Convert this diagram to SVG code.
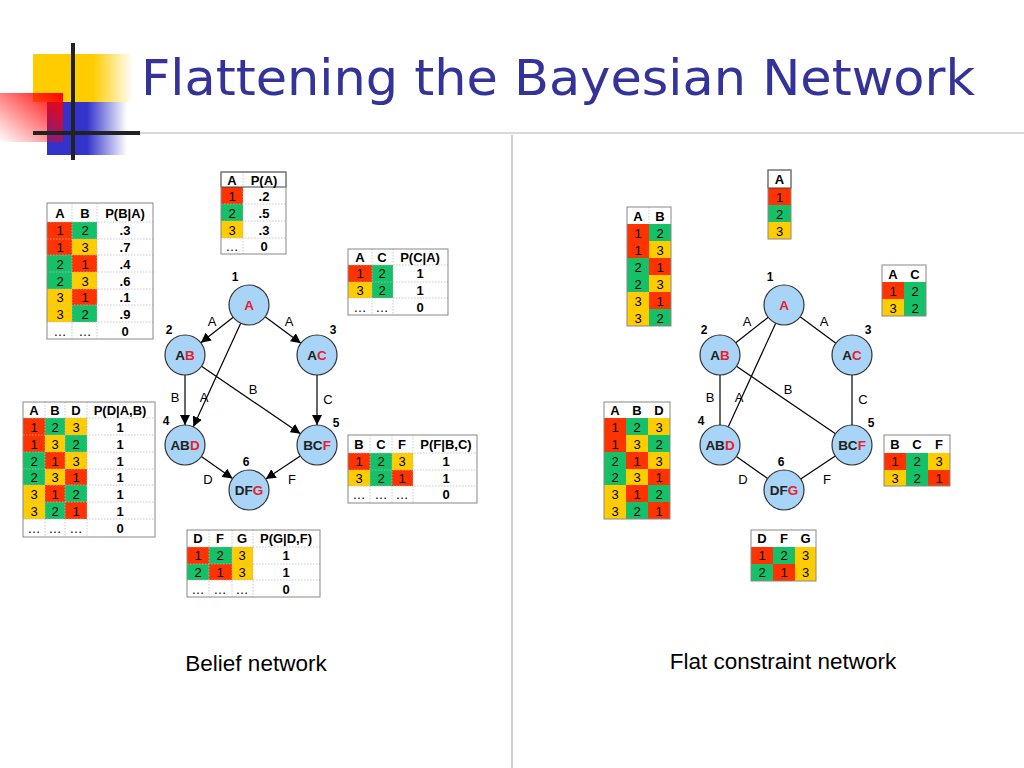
<svg xmlns="http://www.w3.org/2000/svg" width="1024" height="768" viewBox="0 0 1024 768">
<defs>
<linearGradient id="gy" x1="0" y1="0" x2="1" y2="0"><stop offset="0" stop-color="#ffcc00"/><stop offset="0.6" stop-color="#ffcc00"/><stop offset="1" stop-color="#ffcc00" stop-opacity="0"/></linearGradient>
<linearGradient id="gb" x1="0" y1="0" x2="1" y2="0"><stop offset="0" stop-color="#3333cc"/><stop offset="0.5" stop-color="#3333cc"/><stop offset="1" stop-color="#3333cc" stop-opacity="0"/></linearGradient>
<linearGradient id="gr" x1="0" y1="1" x2="1" y2="0"><stop offset="0" stop-color="#ff0000" stop-opacity="0"/><stop offset="1" stop-color="#ff0000"/></linearGradient>
<marker id="ah" viewBox="0 0 10 10" refX="10" refY="5" markerWidth="10" markerHeight="10" markerUnits="userSpaceOnUse" orient="auto"><path d="M0,0 L10,5 L0,10 z" fill="#000"/></marker>
</defs>
<style>
text{font-family:"Liberation Sans",Arial,sans-serif;text-anchor:middle;dominant-baseline:central}
.h{font-size:13px;font-weight:bold}
.c{font-size:13px}
.r{fill:#ff3300}.g{fill:#16c068}.y{fill:#ffcc00}
.ob{fill:none;stroke:#888;stroke-width:1}
.il{stroke:#bbb;stroke-width:0.8;stroke-dasharray:1.5 1.5}
.node{fill:#a8d4f7;stroke:#333;stroke-width:1.2}
.nt{font-size:13.5px;font-weight:bold;fill:#222}
.red{fill:#e8202a}
.num{font-size:12px;font-weight:bold}
.el{font-size:13px}
.e{stroke:#000;stroke-width:1.2;fill:none}
.ea{stroke:#000;stroke-width:1.2;fill:none;marker-end:url(#ah)}
.cap{font-size:22.5px}
</style>
<rect width="1024" height="768" fill="#fff"/>
<!-- logo -->
<rect x="33" y="54" width="100" height="48" fill="url(#gy)"/>
<rect x="47" y="102" width="80" height="53" fill="url(#gb)"/>
<rect x="0" y="93" width="63" height="49" fill="url(#gr)"/>
<line x1="73" y1="43" x2="73" y2="160" stroke="#222" stroke-width="4"/>
<line x1="33" y1="133" x2="140" y2="133" stroke="#222" stroke-width="4"/>
<line x1="140" y1="133" x2="1024" y2="133" stroke="#ccc" stroke-width="1.5"/>
<line x1="512" y1="135" x2="512" y2="768" stroke="#bbb" stroke-width="1.5"/>
<text x="141" y="78" style="text-anchor:start;font-family:'DejaVu Sans',Verdana,sans-serif;font-size:50px;fill:#333399" textLength="834" lengthAdjust="spacingAndGlyphs">Flattening the Bayesian Network</text>

<!-- LEFT TABLES -->
<g id="tPA">
<rect x="221" y="187" width="22" height="17" class="r"/><rect x="221" y="204" width="22" height="17" class="g"/><rect x="221" y="221" width="22" height="17" class="y"/>
<line x1="221" y1="204" x2="286" y2="204" class="il"/><line x1="221" y1="221" x2="286" y2="221" class="il"/><line x1="221" y1="238" x2="286" y2="238" class="il"/>
<line x1="243" y1="172" x2="243" y2="254" class="il"/>
<rect x="221" y="172" width="65" height="15" fill="none" stroke="#444"/>
<rect x="221" y="172" width="65" height="82" class="ob"/>
<text x="232" y="180" class="h">A</text><text x="264" y="180" class="h">P(A)</text>
<text x="232" y="196" class="c">1</text><text x="264" y="196" class="h">.2</text>
<text x="232" y="213" class="c">2</text><text x="264" y="213" class="h">.5</text>
<text x="232" y="230" class="c">3</text><text x="264" y="230" class="h">.3</text>
<text x="232" y="246" class="c">…</text><text x="264" y="246" class="h">0</text>
</g>

<g id="tPBA">
<rect x="47" y="222" width="25" height="33" class="r"/><rect x="47" y="255" width="25" height="34" class="g"/><rect x="47" y="289" width="25" height="33" class="y"/>
<rect x="72" y="222" width="25" height="17" class="g"/><rect x="72" y="239" width="25" height="16" class="y"/><rect x="72" y="255" width="25" height="17" class="r"/><rect x="72" y="272" width="25" height="17" class="y"/><rect x="72" y="289" width="25" height="16" class="r"/><rect x="72" y="305" width="25" height="17" class="g"/>
<line x1="47" y1="222" x2="153" y2="222" class="il"/><line x1="47" y1="239" x2="153" y2="239" class="il"/><line x1="47" y1="255" x2="153" y2="255" class="il"/><line x1="47" y1="272" x2="153" y2="272" class="il"/><line x1="47" y1="289" x2="153" y2="289" class="il"/><line x1="47" y1="305" x2="153" y2="305" class="il"/><line x1="47" y1="322" x2="153" y2="322" class="il"/>
<line x1="72" y1="203" x2="72" y2="339" class="il"/><line x1="97" y1="203" x2="97" y2="339" class="il"/>
<rect x="47" y="203" width="106" height="136" class="ob"/>
<text x="60" y="213" class="h">A</text><text x="85" y="213" class="h">B</text><text x="125" y="213" class="h">P(B|A)</text>
<text x="60" y="230" class="c">1</text><text x="85" y="230" class="c">2</text><text x="125" y="230" class="h">.3</text>
<text x="60" y="247" class="c">1</text><text x="85" y="247" class="c">3</text><text x="125" y="247" class="h">.7</text>
<text x="60" y="264" class="c">2</text><text x="85" y="264" class="c">1</text><text x="125" y="264" class="h">.4</text>
<text x="60" y="281" class="c">2</text><text x="85" y="281" class="c">3</text><text x="125" y="281" class="h">.6</text>
<text x="60" y="297" class="c">3</text><text x="85" y="297" class="c">1</text><text x="125" y="297" class="h">.1</text>
<text x="60" y="314" class="c">3</text><text x="85" y="314" class="c">2</text><text x="125" y="314" class="h">.9</text>
<text x="60" y="331" class="c">…</text><text x="85" y="331" class="c">…</text><text x="125" y="331" class="h">0</text>
</g>

<g id="tPCA">
<rect x="348" y="265" width="24" height="17" class="r"/><rect x="348" y="282" width="24" height="16" class="y"/><rect x="372" y="265" width="21" height="33" class="g"/>
<line x1="348" y1="265" x2="448" y2="265" class="il"/><line x1="348" y1="282" x2="448" y2="282" class="il"/><line x1="348" y1="298" x2="448" y2="298" class="il"/>
<line x1="372" y1="249" x2="372" y2="315" class="il"/><line x1="393" y1="249" x2="393" y2="315" class="il"/>
<rect x="348" y="249" width="100" height="66" class="ob"/>
<text x="360" y="257" class="h">A</text><text x="382" y="257" class="h">C</text><text x="420" y="257" class="h">P(C|A)</text>
<text x="360" y="273" class="c">1</text><text x="382" y="273" class="c">2</text><text x="420" y="273" class="h">1</text>
<text x="360" y="290" class="c">3</text><text x="382" y="290" class="c">2</text><text x="420" y="290" class="h">1</text>
<text x="360" y="307" class="c">…</text><text x="382" y="307" class="c">…</text><text x="420" y="307" class="h">0</text>
</g>

<g id="tPDAB">
<rect x="23" y="418" width="22" height="34" class="r"/><rect x="23" y="452" width="22" height="33" class="g"/><rect x="23" y="485" width="22" height="34" class="y"/>
<rect x="45" y="418" width="20" height="17" class="g"/><rect x="45" y="435" width="20" height="17" class="y"/><rect x="45" y="452" width="20" height="17" class="r"/><rect x="45" y="469" width="20" height="16" class="y"/><rect x="45" y="485" width="20" height="17" class="r"/><rect x="45" y="502" width="20" height="17" class="g"/>
<rect x="65" y="418" width="22" height="17" class="y"/><rect x="65" y="435" width="22" height="17" class="g"/><rect x="65" y="452" width="22" height="17" class="y"/><rect x="65" y="469" width="22" height="16" class="r"/><rect x="65" y="485" width="22" height="17" class="g"/><rect x="65" y="502" width="22" height="17" class="r"/>
<line x1="23" y1="418" x2="155" y2="418" class="il"/><line x1="23" y1="435" x2="155" y2="435" class="il"/><line x1="23" y1="452" x2="155" y2="452" class="il"/><line x1="23" y1="469" x2="155" y2="469" class="il"/><line x1="23" y1="485" x2="155" y2="485" class="il"/><line x1="23" y1="502" x2="155" y2="502" class="il"/><line x1="23" y1="519" x2="155" y2="519" class="il"/>
<line x1="45" y1="402" x2="45" y2="537" class="il"/><line x1="65" y1="402" x2="65" y2="537" class="il"/><line x1="87" y1="402" x2="87" y2="537" class="il"/>
<rect x="23" y="402" width="132" height="135" class="ob"/>
<text x="34" y="410" class="h">A</text><text x="55" y="410" class="h">B</text><text x="76" y="410" class="h">D</text><text x="120" y="410" class="h">P(D|A,B)</text>
<text x="34" y="427" class="c">1</text><text x="55" y="427" class="c">2</text><text x="76" y="427" class="c">3</text><text x="120" y="427" class="h">1</text>
<text x="34" y="444" class="c">1</text><text x="55" y="444" class="c">3</text><text x="76" y="444" class="c">2</text><text x="120" y="444" class="h">1</text>
<text x="34" y="461" class="c">2</text><text x="55" y="461" class="c">1</text><text x="76" y="461" class="c">3</text><text x="120" y="461" class="h">1</text>
<text x="34" y="477" class="c">2</text><text x="55" y="477" class="c">3</text><text x="76" y="477" class="c">1</text><text x="120" y="477" class="h">1</text>
<text x="34" y="494" class="c">3</text><text x="55" y="494" class="c">1</text><text x="76" y="494" class="c">2</text><text x="120" y="494" class="h">1</text>
<text x="34" y="511" class="c">3</text><text x="55" y="511" class="c">2</text><text x="76" y="511" class="c">1</text><text x="120" y="511" class="h">1</text>
<text x="34" y="528" class="c">…</text><text x="55" y="528" class="c">…</text><text x="76" y="528" class="c">…</text><text x="120" y="528" class="h">0</text>
</g>

<g id="tPFBC">
<rect x="348" y="453" width="22" height="17" class="r"/><rect x="348" y="470" width="22" height="16" class="y"/><rect x="370" y="453" width="22" height="33" class="g"/><rect x="392" y="453" width="21" height="17" class="y"/><rect x="392" y="470" width="21" height="16" class="r"/>
<line x1="348" y1="453" x2="477" y2="453" class="il"/><line x1="348" y1="470" x2="477" y2="470" class="il"/><line x1="348" y1="486" x2="477" y2="486" class="il"/>
<line x1="370" y1="435" x2="370" y2="503" class="il"/><line x1="392" y1="435" x2="392" y2="503" class="il"/><line x1="413" y1="435" x2="413" y2="503" class="il"/>
<rect x="348" y="435" width="129" height="68" class="ob"/>
<text x="359" y="444" class="h">B</text><text x="381" y="444" class="h">C</text><text x="402" y="444" class="h">F</text><text x="446" y="444" class="h">P(F|B,C)</text>
<text x="359" y="461" class="c">1</text><text x="381" y="461" class="c">2</text><text x="402" y="461" class="c">3</text><text x="446" y="461" class="h">1</text>
<text x="359" y="478" class="c">3</text><text x="381" y="478" class="c">2</text><text x="402" y="478" class="c">1</text><text x="446" y="478" class="h">1</text>
<text x="359" y="494" class="c">…</text><text x="381" y="494" class="c">…</text><text x="402" y="494" class="c">…</text><text x="446" y="494" class="h">0</text>
</g>

<g id="tPGDF">
<rect x="187" y="547" width="22" height="17" class="r"/><rect x="187" y="564" width="22" height="16" class="g"/><rect x="209" y="547" width="23" height="17" class="g"/><rect x="209" y="564" width="23" height="16" class="r"/><rect x="232" y="547" width="21" height="33" class="y"/>
<line x1="187" y1="547" x2="320" y2="547" class="il"/><line x1="187" y1="564" x2="320" y2="564" class="il"/><line x1="187" y1="580" x2="320" y2="580" class="il"/>
<line x1="209" y1="530" x2="209" y2="597" class="il"/><line x1="232" y1="530" x2="232" y2="597" class="il"/><line x1="253" y1="530" x2="253" y2="597" class="il"/>
<rect x="187" y="530" width="133" height="67" class="ob"/>
<text x="198" y="538" class="h">D</text><text x="220" y="538" class="h">F</text><text x="242" y="538" class="h">G</text><text x="286" y="538" class="h">P(G|D,F)</text>
<text x="198" y="555" class="c">1</text><text x="220" y="555" class="c">2</text><text x="242" y="555" class="c">3</text><text x="286" y="555" class="h">1</text>
<text x="198" y="572" class="c">2</text><text x="220" y="572" class="c">1</text><text x="242" y="572" class="c">3</text><text x="286" y="572" class="h">1</text>
<text x="198" y="589" class="c">…</text><text x="220" y="589" class="c">…</text><text x="242" y="589" class="c">…</text><text x="286" y="589" class="h">0</text>
</g>

<!-- LEFT GRAPH CONNECTORS -->
<g id="connectors-left">
<line x1="233.2" y1="317.3" x2="200.8" y2="342.7" class="ea"/>
<line x1="265.1" y1="316.8" x2="300.9" y2="343.2" class="ea"/>
<line x1="240.7" y1="323.2" x2="193.3" y2="426.8" class="ea"/>
<line x1="185" y1="375" x2="185" y2="425" class="ea"/>
<line x1="201.5" y1="366.3" x2="300.5" y2="433.7" class="ea"/>
<line x1="317" y1="375" x2="317" y2="425" class="ea"/>
<line x1="201.4" y1="456.5" x2="232.6" y2="478.5" class="ea"/>
<line x1="300.3" y1="456" x2="265.7" y2="479" class="ea"/>
<text x="212" y="321" class="el">A</text><text x="289" y="321" class="el">A</text>
<text x="175" y="397" class="el">B</text><text x="204" y="397" class="el">A</text>
<text x="253" y="389" class="el">B</text><text x="328" y="399" class="el">C</text>
<text x="208" y="479" class="el">D</text><text x="292" y="479" class="el">F</text>
</g>
<g id="L1"><circle cx="249" cy="305" r="20" class="node"/><text x="249" y="305" class="nt"><tspan class="red">A</tspan></text><text x="235" y="277" class="num">1</text></g>
<g id="L2"><circle cx="185" cy="355" r="20" class="node"/><text x="185" y="355" class="nt">A<tspan class="red">B</tspan></text><text x="169" y="330" class="num">2</text></g>
<g id="L3"><circle cx="317" cy="355" r="20" class="node"/><text x="317" y="355" class="nt">A<tspan class="red">C</tspan></text><text x="333" y="330" class="num">3</text></g>
<g id="L4"><circle cx="185" cy="445" r="20" class="node"/><text x="185" y="445" class="nt">AB<tspan class="red">D</tspan></text><text x="166" y="421" class="num">4</text></g>
<g id="L5"><circle cx="317" cy="445" r="20" class="node"/><text x="317" y="445" class="nt">BC<tspan class="red">F</tspan></text><text x="336" y="423" class="num">5</text></g>
<g id="L6"><circle cx="249" cy="490" r="20" class="node"/><text x="249" y="490" class="nt">DF<tspan class="red">G</tspan></text><text x="246" y="462" class="num">6</text></g>

<!-- RIGHT TABLES -->
<g id="rA">
<rect x="768" y="188" width="23" height="17" class="r"/><rect x="768" y="205" width="23" height="17" class="g"/><rect x="768" y="222" width="23" height="17" class="y"/>
<rect x="768" y="170" width="23" height="18" fill="none" stroke="#444"/>
<rect x="768" y="170" width="23" height="69" class="ob"/>
<text x="779.5" y="179" class="h">A</text><text x="779.5" y="197" class="c">1</text><text x="779.5" y="214" class="c">2</text><text x="779.5" y="231" class="c">3</text>
</g>
<g id="rAB">
<rect x="627" y="224" width="22" height="34" class="r"/><rect x="627" y="258" width="22" height="34" class="g"/><rect x="627" y="292" width="22" height="34" class="y"/>
<rect x="649" y="224" width="22" height="17" class="g"/><rect x="649" y="241" width="22" height="17" class="y"/><rect x="649" y="258" width="22" height="17" class="r"/><rect x="649" y="275" width="22" height="17" class="y"/><rect x="649" y="292" width="22" height="17" class="r"/><rect x="649" y="309" width="22" height="17" class="g"/>
<line x1="649" y1="207" x2="649" y2="224" class="il"/>
<rect x="627" y="207" width="44" height="119" class="ob"/>
<text x="638" y="216" class="h">A</text><text x="660" y="216" class="h">B</text>
<text x="638" y="233" class="c">1</text><text x="660" y="233" class="c">2</text>
<text x="638" y="250" class="c">1</text><text x="660" y="250" class="c">3</text>
<text x="638" y="267" class="c">2</text><text x="660" y="267" class="c">1</text>
<text x="638" y="284" class="c">2</text><text x="660" y="284" class="c">3</text>
<text x="638" y="301" class="c">3</text><text x="660" y="301" class="c">1</text>
<text x="638" y="318" class="c">3</text><text x="660" y="318" class="c">2</text>
</g>
<g id="rAC">
<rect x="882" y="282" width="22" height="17" class="r"/><rect x="882" y="299" width="22" height="17" class="y"/><rect x="904" y="282" width="22" height="34" class="g"/>
<rect x="882" y="265" width="44" height="51" class="ob"/>
<text x="893" y="274" class="h">A</text><text x="915" y="274" class="h">C</text>
<text x="893" y="291" class="c">1</text><text x="915" y="291" class="c">2</text>
<text x="893" y="308" class="c">3</text><text x="915" y="308" class="c">2</text>
</g>
<g id="rABD">
<rect x="604" y="418" width="22" height="34" class="r"/><rect x="604" y="452" width="22" height="33" class="g"/><rect x="604" y="485" width="22" height="34" class="y"/>
<rect x="626" y="418" width="22" height="17" class="g"/><rect x="626" y="435" width="22" height="17" class="y"/><rect x="626" y="452" width="22" height="17" class="r"/><rect x="626" y="469" width="22" height="16" class="y"/><rect x="626" y="485" width="22" height="17" class="r"/><rect x="626" y="502" width="22" height="17" class="g"/>
<rect x="648" y="418" width="22" height="17" class="y"/><rect x="648" y="435" width="22" height="17" class="g"/><rect x="648" y="452" width="22" height="17" class="y"/><rect x="648" y="469" width="22" height="16" class="r"/><rect x="648" y="485" width="22" height="17" class="g"/><rect x="648" y="502" width="22" height="17" class="r"/>
<rect x="604" y="402" width="66" height="117" class="ob"/>
<text x="615" y="410" class="h">A</text><text x="637" y="410" class="h">B</text><text x="659" y="410" class="h">D</text>
<text x="615" y="427" class="c">1</text><text x="637" y="427" class="c">2</text><text x="659" y="427" class="c">3</text>
<text x="615" y="444" class="c">1</text><text x="637" y="444" class="c">3</text><text x="659" y="444" class="c">2</text>
<text x="615" y="461" class="c">2</text><text x="637" y="461" class="c">1</text><text x="659" y="461" class="c">3</text>
<text x="615" y="477" class="c">2</text><text x="637" y="477" class="c">3</text><text x="659" y="477" class="c">1</text>
<text x="615" y="494" class="c">3</text><text x="637" y="494" class="c">1</text><text x="659" y="494" class="c">2</text>
<text x="615" y="511" class="c">3</text><text x="637" y="511" class="c">2</text><text x="659" y="511" class="c">1</text>
</g>
<g id="rBCF">
<rect x="884" y="453" width="22" height="17" class="r"/><rect x="884" y="470" width="22" height="16" class="y"/><rect x="906" y="453" width="22" height="33" class="g"/><rect x="928" y="453" width="22" height="17" class="y"/><rect x="928" y="470" width="22" height="16" class="r"/>
<rect x="884" y="435" width="66" height="51" class="ob"/>
<text x="895" y="444" class="h">B</text><text x="917" y="444" class="h">C</text><text x="939" y="444" class="h">F</text>
<text x="895" y="461" class="c">1</text><text x="917" y="461" class="c">2</text><text x="939" y="461" class="c">3</text>
<text x="895" y="478" class="c">3</text><text x="917" y="478" class="c">2</text><text x="939" y="478" class="c">1</text>
</g>
<g id="rDFG">
<rect x="751" y="547" width="22" height="17" class="r"/><rect x="751" y="564" width="22" height="17" class="g"/><rect x="773" y="547" width="22" height="17" class="g"/><rect x="773" y="564" width="22" height="17" class="r"/><rect x="795" y="547" width="21" height="34" class="y"/>
<rect x="751" y="530" width="65" height="51" class="ob"/>
<text x="762" y="538" class="h">D</text><text x="784" y="538" class="h">F</text><text x="805.5" y="538" class="h">G</text>
<text x="762" y="555" class="c">1</text><text x="784" y="555" class="c">2</text><text x="805.5" y="555" class="c">3</text>
<text x="762" y="572" class="c">2</text><text x="784" y="572" class="c">1</text><text x="805.5" y="572" class="c">3</text>
</g>

<!-- RIGHT GRAPH CONNECTORS -->
<g id="connectors-right">
<line x1="768.2" y1="317.3" x2="735.8" y2="342.7" class="e"/>
<line x1="800.1" y1="316.8" x2="835.9" y2="343.2" class="e"/>
<line x1="775.7" y1="323.2" x2="728.3" y2="426.8" class="e"/>
<line x1="720" y1="375" x2="720" y2="425" class="e"/>
<line x1="736.5" y1="366.3" x2="835.5" y2="433.7" class="e"/>
<line x1="852" y1="375" x2="852" y2="425" class="e"/>
<line x1="736.4" y1="456.5" x2="767.6" y2="478.5" class="e"/>
<line x1="835.3" y1="456" x2="800.7" y2="479" class="e"/>
<text x="747" y="321" class="el">A</text><text x="824" y="321" class="el">A</text>
<text x="710" y="397" class="el">B</text><text x="739" y="397" class="el">A</text>
<text x="788" y="389" class="el">B</text><text x="863" y="399" class="el">C</text>
<text x="743" y="479" class="el">D</text><text x="827" y="479" class="el">F</text>
</g>
<g id="R1"><circle cx="784" cy="305" r="20" class="node"/><text x="784" y="305" class="nt"><tspan class="red">A</tspan></text><text x="770" y="277" class="num">1</text></g>
<g id="R2"><circle cx="720" cy="355" r="20" class="node"/><text x="720" y="355" class="nt">A<tspan class="red">B</tspan></text><text x="704" y="330" class="num">2</text></g>
<g id="R3"><circle cx="852" cy="355" r="20" class="node"/><text x="852" y="355" class="nt">A<tspan class="red">C</tspan></text><text x="868" y="330" class="num">3</text></g>
<g id="R4"><circle cx="720" cy="445" r="20" class="node"/><text x="720" y="445" class="nt">AB<tspan class="red">D</tspan></text><text x="701" y="421" class="num">4</text></g>
<g id="R5"><circle cx="852" cy="445" r="20" class="node"/><text x="852" y="445" class="nt">BC<tspan class="red">F</tspan></text><text x="871" y="423" class="num">5</text></g>
<g id="R6"><circle cx="784" cy="490" r="20" class="node"/><text x="784" y="490" class="nt">DF<tspan class="red">G</tspan></text><text x="781" y="462" class="num">6</text></g>

<text x="256" y="663" class="cap">Belief network</text>
<text x="783" y="661" class="cap">Flat constraint network</text>
</svg>
